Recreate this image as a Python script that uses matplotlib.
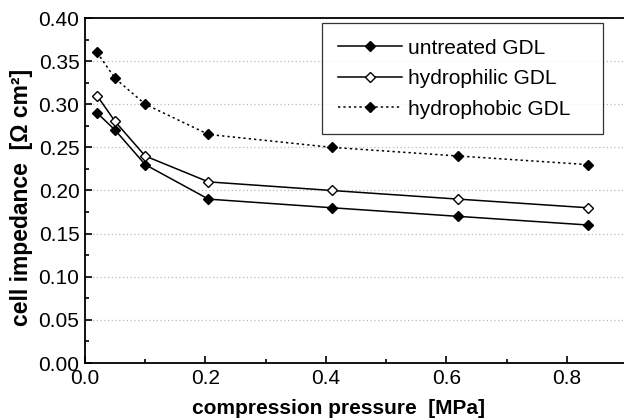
import matplotlib
matplotlib.use("Agg")
import matplotlib.pyplot as plt
from matplotlib.ticker import MultipleLocator

plt.rcParams['font.family'] = ['Liberation Sans', 'DejaVu Sans']

pressure = [0.02, 0.05, 0.10, 0.205, 0.41, 0.62, 0.835]
untreated = [0.29, 0.27, 0.23, 0.19, 0.18, 0.17, 0.16]
hydrophilic = [0.31, 0.28, 0.24, 0.21, 0.20, 0.19, 0.18]
hydrophobic = [0.36, 0.33, 0.30, 0.265, 0.25, 0.24, 0.23]
labels = ["untreated GDL", "hydrophilic GDL", "hydrophobic GDL"]

fig = plt.figure(figsize=(6.24, 4.19), dpi=100)
W, H = 624, 419
ax = fig.add_axes([85 / W, 1 - 363 / H, (627 - 85) / W, (363 - 18) / H])

ms = 5.0
pad = "   "
ax.plot(pressure, untreated, '-', color='black', lw=1.1, marker='D', ms=ms,
        mfc='black', mec='black', label=labels[0] + pad)
ax.plot(pressure, hydrophilic, '-', color='black', lw=1.1, marker='D', ms=ms,
        mfc='white', mec='black', mew=1.0, label=labels[1] + pad)
ax.plot(pressure, hydrophobic, linestyle=(0, (1.5, 2)), color='black', lw=1.1,
        marker='D', ms=ms, mfc='black', mec='black', label=labels[2] + pad)

ax.set_xlim(0, 0.9)
ax.set_ylim(0, 0.40)
ax.xaxis.set_major_locator(MultipleLocator(0.2))
ax.xaxis.set_minor_locator(MultipleLocator(0.1))
ax.yaxis.set_major_locator(MultipleLocator(0.05))
ax.yaxis.set_minor_locator(MultipleLocator(0.025))
ax.xaxis.set_major_formatter(matplotlib.ticker.FormatStrFormatter('%.1f'))
ax.yaxis.set_major_formatter(matplotlib.ticker.FormatStrFormatter('%.2f'))
ax.tick_params(which='both', direction='in', labelsize=15, width=1.2,
               top=False, right=False)
ax.tick_params(which='major', length=5, pad=4)
ax.tick_params(which='minor', length=3)
for s in ax.spines.values():
    s.set_linewidth(1.3)
ax.yaxis.grid(True, which='major', linestyle=(0, (1, 2)), color='#bbbbbb', lw=0.9)
ax.set_axisbelow(True)

ax.set_xlabel("compression pressure  [MPa]", fontsize=15, fontweight='bold')
ax.xaxis.set_label_coords((338 - 85) / 542, -0.105)
ax.set_ylabel("cell impedance  [\u03a9 cm\u00b2]", fontsize=16.5, fontweight='bold')
ax.yaxis.set_label_coords((33 - 85) / 542, 0.48)

leg = ax.legend(loc='upper right', bbox_to_anchor=((603 - 85) / 542, 1 - 5 / 345),
                fontsize=15, frameon=True, fancybox=False, edgecolor='black',
                handlelength=3.1, borderpad=0.75, labelspacing=0.55, handletextpad=0.3,
                borderaxespad=0)
leg.get_frame().set_linewidth(0.9)

fig.savefig("out.png", dpi=100)
